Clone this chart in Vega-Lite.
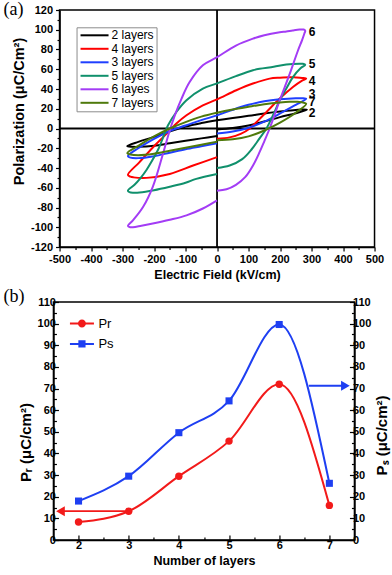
{
"$schema": "https://vega.github.io/schema/vega-lite/v6.json",
"padding": {"left": 2, "top": 0, "right": 0, "bottom": 0},
"spacing": 5,
"center": true,
"resolve": {"scale": {"color": "independent", "shape": "independent"}, "legend": {"color": "independent", "shape": "independent"}},
"config": {
 "font": "Liberation Sans",
 "view": {"stroke": "#000", "strokeWidth": 1.5},
 "axis": {"grid": false, "domainColor": "#000", "domainWidth": 1.5, "tickColor": "#000", "tickWidth": 1.2, "labelColor": "#000", "labelFont": "Liberation Sans", "labelFontSize": 11, "labelFontWeight": "bold", "titleColor": "#000", "titleFont": "Liberation Sans", "titleFontWeight": "bold", "labelFlush": false, "labelOverlap": false, "labelBound": false},
 "legend": {"labelFont": "Liberation Sans", "labelColor": "#000"},
 "title": {"font": "Liberation Serif", "fontSize": 18, "fontWeight": "normal", "color": "#000", "anchor": "start", "frame": "group"}
},
"datasets": {
 "zeros": [{"E": -500, "E2": 500, "P": 0, "P2": 0}, {"E": 0, "E2": 0, "P": -120, "P2": 120}],
 "endlabels": [{"lab": "6", "E": 291, "P": 98}, {"lab": "5", "E": 291, "P": 65}, {"lab": "4", "E": 291, "P": 48}, {"lab": "3", "E": 291, "P": 35}, {"lab": "7", "E": 291, "P": 26.5}, {"lab": "2", "E": 291, "P": 15.7}],
 "loops": [
  {"s":"2 layers","i":0,"E":0,"P":-1},{"s":"2 layers","i":1,"E":50,"P":0.5},{"s":"2 layers","i":2,"E":100,"P":3},{"s":"2 layers","i":3,"E":150,"P":7},{"s":"2 layers","i":4,"E":200,"P":11.5},{"s":"2 layers","i":5,"E":250,"P":15.5},{"s":"2 layers","i":6,"E":285,"P":19},{"s":"2 layers","i":7,"E":270,"P":19.2},{"s":"2 layers","i":8,"E":250,"P":18.7},{"s":"2 layers","i":9,"E":200,"P":17.2},{"s":"2 layers","i":10,"E":150,"P":15.2},{"s":"2 layers","i":11,"E":100,"P":12.8},{"s":"2 layers","i":12,"E":50,"P":10.7},{"s":"2 layers","i":13,"E":0,"P":8.3},{"s":"2 layers","i":14,"E":-50,"P":5.5},{"s":"2 layers","i":15,"E":-100,"P":2},{"s":"2 layers","i":16,"E":-150,"P":-3},{"s":"2 layers","i":17,"E":-200,"P":-8.5},{"s":"2 layers","i":18,"E":-250,"P":-13.5},{"s":"2 layers","i":19,"E":-285,"P":-17.8},{"s":"2 layers","i":20,"E":-270,"P":-18.5},{"s":"2 layers","i":21,"E":-250,"P":-18.6},{"s":"2 layers","i":22,"E":-200,"P":-17.5},{"s":"2 layers","i":23,"E":-150,"P":-15},{"s":"2 layers","i":24,"E":-100,"P":-12.5},{"s":"2 layers","i":25,"E":-50,"P":-10},{"s":"2 layers","i":26,"E":0,"P":-7.6},
  {"s":"4 layers","i":0,"E":0,"P":-10.3},{"s":"4 layers","i":1,"E":40,"P":-9},{"s":"4 layers","i":2,"E":75,"P":-5.5},{"s":"4 layers","i":3,"E":104,"P":0},{"s":"4 layers","i":4,"E":130,"P":8},{"s":"4 layers","i":5,"E":157,"P":16.7},{"s":"4 layers","i":6,"E":199,"P":30.3},{"s":"4 layers","i":7,"E":241,"P":42},{"s":"4 layers","i":8,"E":270,"P":48.5},{"s":"4 layers","i":9,"E":283,"P":50.5},{"s":"4 layers","i":10,"E":270,"P":51.2},{"s":"4 layers","i":11,"E":250,"P":51.7},{"s":"4 layers","i":12,"E":231,"P":52},{"s":"4 layers","i":13,"E":200,"P":51.5},{"s":"4 layers","i":14,"E":167,"P":50.5},{"s":"4 layers","i":15,"E":114,"P":45.5},{"s":"4 layers","i":16,"E":61,"P":38.7},{"s":"4 layers","i":17,"E":0,"P":29.5},{"s":"4 layers","i":18,"E":-45,"P":23.5},{"s":"4 layers","i":19,"E":-97,"P":13.4},{"s":"4 layers","i":20,"E":-129,"P":5},{"s":"4 layers","i":21,"E":-150,"P":-2},{"s":"4 layers","i":22,"E":-175,"P":-10},{"s":"4 layers","i":23,"E":-203,"P":-19},{"s":"4 layers","i":24,"E":-246,"P":-34},{"s":"4 layers","i":25,"E":-283,"P":-47},{"s":"4 layers","i":26,"E":-275,"P":-48.8},{"s":"4 layers","i":27,"E":-265,"P":-49.5},{"s":"4 layers","i":28,"E":-224,"P":-50},{"s":"4 layers","i":29,"E":-150,"P":-46},{"s":"4 layers","i":30,"E":-76,"P":-37.5},{"s":"4 layers","i":31,"E":0,"P":-29},
  {"s":"3 layers","i":0,"E":0,"P":-5},{"s":"3 layers","i":1,"E":50,"P":-3},{"s":"3 layers","i":2,"E":93,"P":0},{"s":"3 layers","i":3,"E":150,"P":7},{"s":"3 layers","i":4,"E":199,"P":15},{"s":"3 layers","i":5,"E":250,"P":24},{"s":"3 layers","i":6,"E":283,"P":30},{"s":"3 layers","i":7,"E":270,"P":30.6},{"s":"3 layers","i":8,"E":250,"P":30.6},{"s":"3 layers","i":9,"E":199,"P":29.5},{"s":"3 layers","i":10,"E":150,"P":27.5},{"s":"3 layers","i":11,"E":100,"P":24},{"s":"3 layers","i":12,"E":50,"P":19},{"s":"3 layers","i":13,"E":0,"P":13.3},{"s":"3 layers","i":14,"E":-50,"P":8.5},{"s":"3 layers","i":15,"E":-100,"P":3},{"s":"3 layers","i":16,"E":-130,"P":0},{"s":"3 layers","i":17,"E":-150,"P":-2.5},{"s":"3 layers","i":18,"E":-200,"P":-10.5},{"s":"3 layers","i":19,"E":-250,"P":-20},{"s":"3 layers","i":20,"E":-283,"P":-28},{"s":"3 layers","i":21,"E":-275,"P":-29.5},{"s":"3 layers","i":22,"E":-250,"P":-30},{"s":"3 layers","i":23,"E":-200,"P":-28},{"s":"3 layers","i":24,"E":-150,"P":-24.5},{"s":"3 layers","i":25,"E":-100,"P":-21},{"s":"3 layers","i":26,"E":-50,"P":-18},{"s":"3 layers","i":27,"E":0,"P":-15},
  {"s":"5 layers","i":0,"E":0,"P":-40},{"s":"5 layers","i":1,"E":40,"P":-37.5},{"s":"5 layers","i":2,"E":80,"P":-31},{"s":"5 layers","i":3,"E":110,"P":-21},{"s":"5 layers","i":4,"E":135,"P":-10},{"s":"5 layers","i":5,"E":157,"P":0},{"s":"5 layers","i":6,"E":180,"P":15},{"s":"5 layers","i":7,"E":199,"P":28.6},{"s":"5 layers","i":8,"E":220,"P":40.5},{"s":"5 layers","i":9,"E":241,"P":52},{"s":"5 layers","i":10,"E":265,"P":61},{"s":"5 layers","i":11,"E":280,"P":64.5},{"s":"5 layers","i":12,"E":272,"P":65.5},{"s":"5 layers","i":13,"E":262,"P":65.6},{"s":"5 layers","i":14,"E":220,"P":64.7},{"s":"5 layers","i":15,"E":180,"P":62.5},{"s":"5 layers","i":16,"E":135,"P":60.5},{"s":"5 layers","i":17,"E":114,"P":59},{"s":"5 layers","i":18,"E":60,"P":53},{"s":"5 layers","i":19,"E":0,"P":45.7},{"s":"5 layers","i":20,"E":-45,"P":40.4},{"s":"5 layers","i":21,"E":-97,"P":28.6},{"s":"5 layers","i":22,"E":-129,"P":16.7},{"s":"5 layers","i":23,"E":-156,"P":3},{"s":"5 layers","i":24,"E":-170,"P":-8},{"s":"5 layers","i":25,"E":-185,"P":-20},{"s":"5 layers","i":26,"E":-205,"P":-32},{"s":"5 layers","i":27,"E":-224,"P":-42},{"s":"5 layers","i":28,"E":-245,"P":-51},{"s":"5 layers","i":29,"E":-262,"P":-57},{"s":"5 layers","i":30,"E":-283,"P":-63},{"s":"5 layers","i":31,"E":-278,"P":-64.5},{"s":"5 layers","i":32,"E":-265,"P":-65},{"s":"5 layers","i":33,"E":-246,"P":-64.8},{"s":"5 layers","i":34,"E":-200,"P":-62.5},{"s":"5 layers","i":35,"E":-150,"P":-59},{"s":"5 layers","i":36,"E":-100,"P":-55},{"s":"5 layers","i":37,"E":-66,"P":-51},{"s":"5 layers","i":38,"E":0,"P":-46},
  {"s":"6 layes","i":0,"E":0,"P":-63},{"s":"6 layes","i":1,"E":30,"P":-61.5},{"s":"6 layes","i":2,"E":60,"P":-57},{"s":"6 layes","i":3,"E":90,"P":-49},{"s":"6 layes","i":4,"E":115,"P":-37},{"s":"6 layes","i":5,"E":135,"P":-24},{"s":"6 layes","i":6,"E":150,"P":-13},{"s":"6 layes","i":7,"E":167,"P":0},{"s":"6 layes","i":8,"E":183,"P":14},{"s":"6 layes","i":9,"E":199,"P":28.6},{"s":"6 layes","i":10,"E":215,"P":42},{"s":"6 layes","i":11,"E":231,"P":55.6},{"s":"6 layes","i":12,"E":257,"P":79},{"s":"6 layes","i":13,"E":270,"P":89.5},{"s":"6 layes","i":14,"E":277,"P":96},{"s":"6 layes","i":15,"E":280,"P":99},{"s":"6 layes","i":16,"E":275,"P":100.2},{"s":"6 layes","i":17,"E":262,"P":100.2},{"s":"6 layes","i":18,"E":240,"P":99.3},{"s":"6 layes","i":19,"E":220,"P":98.3},{"s":"6 layes","i":20,"E":199,"P":97.5},{"s":"6 layes","i":21,"E":150,"P":94.5},{"s":"6 layes","i":22,"E":114,"P":91},{"s":"6 layes","i":23,"E":60,"P":84},{"s":"6 layes","i":24,"E":0,"P":72.2},{"s":"6 layes","i":25,"E":-45,"P":64},{"s":"6 layes","i":26,"E":-87,"P":47},{"s":"6 layes","i":27,"E":-113,"P":30},{"s":"6 layes","i":28,"E":-134,"P":13.3},{"s":"6 layes","i":29,"E":-150,"P":-1.8},{"s":"6 layes","i":30,"E":-172,"P":-26},{"s":"6 layes","i":31,"E":-204,"P":-59},{"s":"6 layes","i":32,"E":-235,"P":-79.5},{"s":"6 layes","i":33,"E":-267,"P":-93},{"s":"6 layes","i":34,"E":-283,"P":-98.5},{"s":"6 layes","i":35,"E":-278,"P":-99.8},{"s":"6 layes","i":36,"E":-267,"P":-100},{"s":"6 layes","i":37,"E":-240,"P":-98.5},{"s":"6 layes","i":38,"E":-204,"P":-96.3},{"s":"6 layes","i":39,"E":-150,"P":-92.5},{"s":"6 layes","i":40,"E":-97,"P":-88},{"s":"6 layes","i":41,"E":-45,"P":-81},{"s":"6 layes","i":42,"E":0,"P":-72.7},
  {"s":"7 layers","i":0,"E":0,"P":-12},{"s":"7 layers","i":1,"E":50,"P":-11},{"s":"7 layers","i":2,"E":100,"P":-8},{"s":"7 layers","i":3,"E":150,"P":-2},{"s":"7 layers","i":4,"E":200,"P":6},{"s":"7 layers","i":5,"E":250,"P":16},{"s":"7 layers","i":6,"E":283,"P":25},{"s":"7 layers","i":7,"E":270,"P":26.6},{"s":"7 layers","i":8,"E":250,"P":27},{"s":"7 layers","i":9,"E":230,"P":27},{"s":"7 layers","i":10,"E":200,"P":26.3},{"s":"7 layers","i":11,"E":150,"P":24.5},{"s":"7 layers","i":12,"E":100,"P":22},{"s":"7 layers","i":13,"E":50,"P":19.3},{"s":"7 layers","i":14,"E":0,"P":16},{"s":"7 layers","i":15,"E":-50,"P":12},{"s":"7 layers","i":16,"E":-100,"P":6.5},{"s":"7 layers","i":17,"E":-150,"P":0},{"s":"7 layers","i":18,"E":-200,"P":-8},{"s":"7 layers","i":19,"E":-250,"P":-17.5},{"s":"7 layers","i":20,"E":-285,"P":-25},{"s":"7 layers","i":21,"E":-275,"P":-26.3},{"s":"7 layers","i":22,"E":-250,"P":-27},{"s":"7 layers","i":23,"E":-200,"P":-25.5},{"s":"7 layers","i":24,"E":-150,"P":-22.5},{"s":"7 layers","i":25,"E":-100,"P":-19.5},{"s":"7 layers","i":26,"E":-50,"P":-16.5},{"s":"7 layers","i":27,"E":0,"P":-13.5}
 ],
 "summary": [{"series":"Pr","n":2,"v":8.3},{"series":"Pr","n":3,"v":13.3},{"series":"Pr","n":4,"v":29.5},{"series":"Pr","n":5,"v":45.7},{"series":"Pr","n":6,"v":72},{"series":"Pr","n":7,"v":16},{"series":"Ps","n":2,"v":18},{"series":"Ps","n":3,"v":29.5},{"series":"Ps","n":4,"v":49.6},{"series":"Ps","n":5,"v":64.3},{"series":"Ps","n":6,"v":99.6},{"series":"Ps","n":7,"v":26.2}],
 "arrows": [{"series":"Pr","n":3,"n2":1.66,"v":13.3},{"series":"Ps","n":6.59,"n2":7.3,"v":71.3}],
 "heads": [{"series":"Pr","n":1.64,"v":13.3},{"series":"Ps","n":7.32,"v":71.3}]
},
"vconcat": [
 {
  "width": 315, "height": 237,
  "title": {"text": "(a)", "dx": -56, "offset": -15},
  "encoding": {
   "x": {"field": "E", "type": "quantitative", "title": "Electric Field (kV/cm)", "scale": {"domain": [-500, 500], "nice": false, "zero": false},
    "axis": {"values": [-500,-450,-400,-350,-300,-250,-200,-150,-100,-50,0,50,100,150,200,250,300,350,400,450,500], "labelExpr": "datum.value % 100 === 0 ? '' + datum.value : ''", "tickSize": {"condition": {"test": "datum.value % 100 === 0", "value": 4}, "value": 2.5}, "labelPadding": 2, "titlePadding": 4, "titleFontSize": 12.5}},
   "y": {"field": "P", "type": "quantitative", "title": "Polarization (μC/Cm²)", "scale": {"domain": [-120, 120], "nice": false, "zero": false},
    "axis": {"values": [-120,-110,-100,-90,-80,-70,-60,-50,-40,-30,-20,-10,0,10,20,30,40,50,60,70,80,90,100,110,120], "labelExpr": "datum.value % 20 === 0 ? '' + datum.value : ''", "tickSize": {"condition": {"test": "datum.value % 20 === 0", "value": 4}, "value": 2.5}, "labelPadding": 3, "titlePadding": 4, "titleFontSize": 14.5, "titleY": 101}}
  },
  "layer": [
   {"data": {"name": "zeros"}, "mark": {"type": "rule", "color": "#000", "strokeWidth": 1.8},
    "encoding": {"x2": {"field": "E2"}, "y2": {"field": "P2"}}},
   {"data": {"name": "loops"}, "mark": {"type": "line", "interpolate": "catmull-rom", "strokeWidth": 2},
    "encoding": {
     "order": {"field": "i", "type": "quantitative"},
     "color": {"field": "s", "type": "nominal",
      "scale": {"domain": ["2 layers", "4 layers", "3 layers", "5 layers", "6 layes", "7 layers"], "range": ["#000000", "#ff0000", "#1f3fff", "#10906c", "#a33cf5", "#4f7a0c"]},
      "legend": {"orient": "none", "legendX": 17, "legendY": 17.3, "title": null, "padding": 2, "symbolType": "M-1,0L6,0", "symbolSize": 64, "symbolStrokeWidth": 2, "symbolOffset": 0, "labelOffset": 21, "rowPadding": 1.5, "labelFontSize": 12, "strokeColor": "#8c8c8c", "fillColor": "#ffffff"}}
    }},
   {"data": {"name": "endlabels"}, "mark": {"type": "text", "align": "left", "baseline": "middle", "fontWeight": "bold", "fontSize": 12, "font": "Liberation Sans", "color": "#000"},
    "encoding": {"text": {"field": "lab"}}}
  ]
 },
 {
  "width": 301, "height": 238,
  "title": {"text": "(b)", "dx": -50, "offset": -10},
  "encoding": {
   "x": {"field": "n", "type": "quantitative", "title": "Number of layers", "scale": {"domain": [1.5, 7.5], "nice": false, "zero": false},
    "axis": {"values": [2,2.5,3,3.5,4,4.5,5,5.5,6,6.5,7], "labelExpr": "datum.value % 1 === 0 ? '' + datum.value : ''", "tickSize": {"condition": {"test": "datum.value % 1 === 0", "value": -5}, "value": -3}, "labelPadding": 4, "titlePadding": 2, "titleFontSize": 12.5}}
  },
  "layer": [
   {
    "encoding": {"y": {"field": "v", "type": "quantitative", "title": "Pᵣ (μC/cm²)", "scale": {"domain": [0, 110], "nice": false, "zero": false},
     "axis": {"values": [0,5,10,15,20,25,30,35,40,45,50,55,60,65,70,75,80,85,90,95,100,105,110], "labelExpr": "datum.value % 10 === 0 ? '' + datum.value : ''", "tickSize": {"condition": {"test": "datum.value % 10 === 0", "value": -5}, "value": -3}, "labelPadding": 3, "titlePadding": 4, "titleFontSize": 15, "titleY": 140}}},
    "layer": [
     {"data": {"name": "summary"}, "transform": [{"filter": "datum.series === 'Pr'"}], "mark": {"type": "line", "interpolate": "monotone", "color": "#f21a1a", "strokeWidth": 2}},
     {"data": {"name": "summary"}, "transform": [{"filter": "datum.series === 'Pr'"}], "mark": {"type": "point", "shape": "circle", "filled": true, "size": 55, "color": "#f21a1a", "opacity": 1}},
     {"data": {"name": "arrows"}, "transform": [{"filter": "datum.series === 'Pr'"}], "mark": {"type": "rule", "color": "#f21a1a", "strokeWidth": 1.8}, "encoding": {"x2": {"field": "n2"}}},
     {"data": {"name": "heads"}, "transform": [{"filter": "datum.series === 'Pr'"}], "mark": {"type": "point", "shape": "triangle-left", "filled": true, "size": 100, "color": "#f21a1a", "opacity": 1}},
     {"data": {"name": "summary"}, "transform": [{"filter": "datum.n < 0"}], "mark": {"type": "point", "filled": true, "opacity": 1},
      "encoding": {
       "color": {"field": "series", "type": "nominal", "scale": {"domain": ["Pr", "Ps"], "range": ["#f21a1a", "#1e3ff2"]},
        "legend": {"orient": "none", "legendX": 10, "legendY": 15, "title": null, "padding": 0, "symbolSize": 64, "symbolOffset": 0, "labelOffset": 22, "rowPadding": 6.4, "labelFontSize": 13, "symbolStrokeWidth": 0}},
       "shape": {"field": "series", "type": "nominal", "scale": {"domain": ["Pr", "Ps"], "range": ["M0,-0.25L6,-0.25L6,0.25L0,0.25Z M4,0A1,1,0,1,1,2,0A1,1,0,1,1,4,0Z", "M0,-0.25L6,-0.25L6,0.25L0,0.25Z M2.1,-0.9L3.9,-0.9L3.9,0.9L2.1,0.9Z"]},
        "legend": {"orient": "none", "legendX": 10, "legendY": 15, "title": null, "padding": 0, "symbolSize": 64, "symbolOffset": 0, "labelOffset": 22, "rowPadding": 6.4, "labelFontSize": 13, "symbolStrokeWidth": 0}}
      }}
    ]
   },
   {
    "encoding": {"y": {"field": "v", "type": "quantitative", "title": "Pₛ (μC/cm²)", "scale": {"domain": [0, 110], "nice": false, "zero": false},
     "axis": {"orient": "right", "titleAngle": 270, "titleBaseline": "top", "values": [0,5,10,15,20,25,30,35,40,45,50,55,60,65,70,75,80,85,90,95,100,105,110], "labelExpr": "datum.value % 10 === 0 ? '' + datum.value : ''", "tickSize": {"condition": {"test": "datum.value % 10 === 0", "value": -5}, "value": -3}, "labelPadding": 3, "titlePadding": 4, "titleFontSize": 15, "titleY": 133}}},
    "layer": [
     {"data": {"name": "summary"}, "transform": [{"filter": "datum.series === 'Ps'"}], "mark": {"type": "line", "interpolate": "monotone", "color": "#1e3ff2", "strokeWidth": 2}},
     {"data": {"name": "summary"}, "transform": [{"filter": "datum.series === 'Ps'"}], "mark": {"type": "point", "shape": "square", "filled": true, "size": 50, "color": "#1e3ff2", "opacity": 1}},
     {"data": {"name": "arrows"}, "transform": [{"filter": "datum.series === 'Ps'"}], "mark": {"type": "rule", "color": "#1e3ff2", "strokeWidth": 1.8}, "encoding": {"x2": {"field": "n2"}}},
     {"data": {"name": "heads"}, "transform": [{"filter": "datum.series === 'Ps'"}], "mark": {"type": "point", "shape": "triangle-right", "filled": true, "size": 100, "color": "#1e3ff2", "opacity": 1}}
    ]
   }
  ],
  "resolve": {"scale": {"y": "independent"}}
 }
]
}
